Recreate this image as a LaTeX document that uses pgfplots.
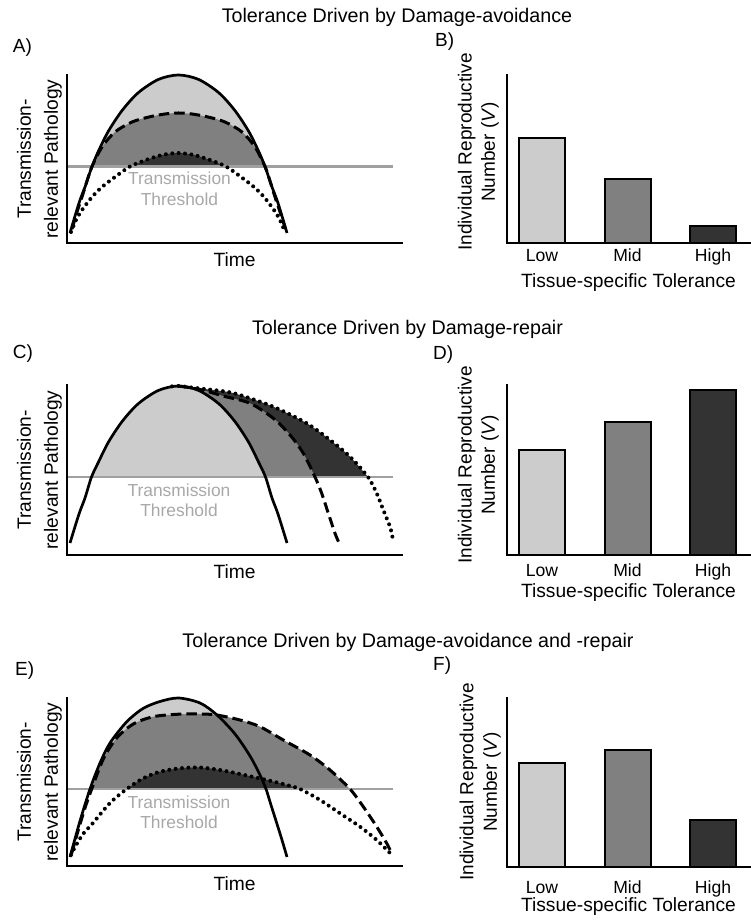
\documentclass[border=0pt]{standalone}
\usepackage{fontspec}
\setmainfont{Liberation Sans}
\usepackage{pgfplots}
\pgfplotsset{compat=1.18}
\definecolor{cLight}{HTML}{CCCCCC}
\definecolor{cMid}{HTML}{808080}
\definecolor{cDark}{HTML}{333333}
\definecolor{cThr}{HTML}{A0A0A0}
\definecolor{cText}{HTML}{A8A8A8}
\pgfplotsset{
  every axis/.append style={font=\fontsize{19.2}{22}\selectfont},
  pan/.style={scale only axis, clip=false, anchor=south west,
    axis x line*=bottom, axis y line*=left,
    axis line style={line width=2.8pt, line cap=rect, black},
    xtick=\empty, ytick=\empty, major tick length=0pt, ymin=0},
  curvepan/.style={pan, width=335pt, xmin=67, xmax=402,
    xlabel={Time},
    xlabel style={at={(axis description cs:0.5,0)}, anchor=base, yshift=-24pt, inner sep=0pt},
    ylabel={Transmission-\\relevant Pathology},
    ylabel style={at={(axis description cs:-0.015,0.5)}, anchor=south, inner sep=0pt,
      align=center, font=\fontsize{19.2}{27}\selectfont}},
  barpan/.style={pan, width=243pt, xmin=507, xmax=750, ymax=1,
    xtick={542,627.5,713}, xticklabels={Low,Mid,High},
    xticklabel style={anchor=base, inner sep=0pt, font=\fontsize{17.6}{20}\selectfont},
    xlabel={Tissue-specific Tolerance},
    ylabel={Individual Reproductive\\Number (\textit{V})},
    ylabel style={anchor=south, inner sep=0pt, align=center, font=\fontsize{19}{23.3}\selectfont}},
  thrline/.style={cThr, line width=2.5pt},
  solline/.style={black, line width=2.7pt, smooth},
  dshline/.style={black, line width=3pt, smooth, dash pattern=on 10.5pt off 5pt},
  dotline/.style={black, line width=4pt, smooth, line cap=round, dash pattern=on 0pt off 6.4pt},
  region/.style={draw=none, smooth},
  onebar/.style={ybar, bar width=46pt, bar shift=0pt, draw=black, line width=2pt},
}
\begin{document}
\begin{tikzpicture}
\useasboundingbox (0,0) rectangle (751pt,921pt);
\node[anchor=base, font=\fontsize{19.7}{22}\selectfont] at (397pt,898pt) {Tolerance Driven by Damage-avoidance};
\node[anchor=base, font=\fontsize{19.7}{22}\selectfont] at (407.5pt,586.7pt) {Tolerance Driven by Damage-repair};
\node[anchor=base, font=\fontsize{19.7}{22}\selectfont] at (408pt,273.3pt) {Tolerance Driven by Damage-avoidance and -repair};
\node[anchor=base west, inner sep=0pt, font=\fontsize{19}{22}\selectfont] at (12.7pt,868pt) {A)};
\node[anchor=base west, inner sep=0pt, font=\fontsize{19}{22}\selectfont] at (435pt,874.5pt) {B)};
\node[anchor=base west, inner sep=0pt, font=\fontsize{19}{22}\selectfont] at (12.7pt,562pt) {C)};
\node[anchor=base west, inner sep=0pt, font=\fontsize{19}{22}\selectfont] at (433pt,561pt) {D)};
\node[anchor=base west, inner sep=0pt, font=\fontsize{19}{22}\selectfont] at (15pt,245pt) {E)};
\node[anchor=base west, inner sep=0pt, font=\fontsize{19}{22}\selectfont] at (433pt,250pt) {F)};

% ---------- A ----------
\begin{axis}[curvepan, at={(67pt,678pt)}, height=168pt, ymax=168]
\addplot[region, fill=cLight] coordinates {(92,76.5) (98.5,92) (108.5,112) (122.5,133) (138.5,150.5) (158.5,163.6) (178.5,168) (198.5,163.6) (218.5,150.5) (234.5,133) (248.5,112) (258.5,92) (265,76.5)} -- cycle;
\addplot[region, fill=cMid] coordinates {(92,76.5) (102,96) (115,111) (132,121) (149,126) (165,129) (178.5,130) (192,129) (208,126) (225,121) (242,111) (255,96) (265,76.5)} -- cycle;
\addplot[region, fill=cDark] coordinates {(130,76.5) (146,83) (162,88) (178,90) (194,88) (210,83) (226,76.5)} -- cycle;
\addplot[thrline] coordinates {(68,76.5) (393,76.5)};
\addplot[solline] coordinates {(70,10) (79,40) (85,56) (92,76.5) (98.5,92) (108.5,112) (122.5,133) (138.5,150.5) (158.5,163.6) (178.5,168) (198.5,163.6) (218.5,150.5) (234.5,133) (248.5,112) (258.5,92) (265,76.5) (272,56) (278,40) (287,10)};
\addplot[dshline] coordinates {(72,14) (77,31) (82,46) (87,62) (92,76.5) (102,96) (115,111) (132,121) (149,126) (165,129) (178.5,130) (192,129) (208,126) (225,121) (242,111) (255,96) (265,76.5) (270,62) (275,46) (280,31) (285.5,14)};
\addplot[dotline] coordinates {(71,11) (76,23) (82,33) (92,46) (102,56) (115,66) (130,76.5) (146,83) (162,88) (178,90) (194,88) (210,83) (226,76.5) (241,66) (254,56) (264,46) (274,33) (280,23) (285,11)};
\node[cText, anchor=base, font=\fontsize{17.4}{20}\selectfont] at (axis cs:179.5,58) {Transmission};
\node[cText, anchor=base, font=\fontsize{17.4}{20}\selectfont] at (axis cs:179.5,37) {Threshold};
\end{axis}

% ---------- B ----------
\begin{axis}[barpan, at={(507pt,678pt)}, height=168pt,
  xticklabel style={yshift=-18.7pt},
  xlabel style={at={(axis description cs:0.5,0)}, anchor=base, inner sep=0pt, yshift=-45pt},
  ylabel style={at={(axis description cs:-0.033,0.542)}}]
\addplot[onebar, fill=cLight] coordinates {(542,0.625)};
\addplot[onebar, fill=cMid] coordinates {(627.5,0.381)};
\addplot[onebar, fill=cDark] coordinates {(713,0.101)};
\end{axis}

% ---------- C ----------
\begin{axis}[curvepan, at={(67pt,366pt)}, height=170pt, ymax=170]
\addplot[region, fill=cDark] coordinates {(91.5,78) (98.5,93) (108.5,113) (122.5,134) (138.5,151.5) (158.5,164.6) (178.5,169) (200,166.5) (225,163.5) (240,160) (273.3,148.3) (306.7,131.7) (330,115) (350,98.3) (368,78)} -- cycle;
\addplot[region, fill=cMid] coordinates {(91.5,78) (98.5,93) (108.5,113) (122.5,134) (138.5,151.5) (158.5,164.6) (178.5,169) (200,165.5) (225,158.5) (250,151.7) (273.3,136.7) (290,120) (303.3,101.7) (315,78)} -- cycle;
\addplot[region, fill=cLight] coordinates {(91.5,78) (98.5,93) (108.5,113) (122.5,134) (138.5,151.5) (158.5,164.6) (178.5,169) (198.5,164.6) (218.5,151.5) (234.5,134) (248.5,113) (258.5,93) (265.5,78)} -- cycle;
\addplot[thrline] coordinates {(68,78) (393,78)};
\addplot[solline] coordinates {(70,12) (79,41) (85,57) (91.5,78) (98.5,93) (108.5,113) (122.5,134) (138.5,151.5) (158.5,164.6) (178.5,169) (198.5,164.6) (218.5,151.5) (234.5,134) (248.5,113) (258.5,93) (265.5,78) (272,57) (278,41) (287,12)};
\addplot[dshline] coordinates {(178.5,169) (200,165.5) (225,158.5) (250,151.7) (273.3,136.7) (290,120) (303.3,101.7) (315,78) (321.7,61.7) (328.3,41.7) (335,21.7) (339.5,11)};
\addplot[dotline] coordinates {(172,168.6) (178.5,169) (200,166.5) (225,163.5) (240,160) (273.3,148.3) (306.7,131.7) (330,115) (350,98.3) (368,78) (376.7,61.7) (383.3,45) (390,28.3) (392.7,16.7)};
\node[cText, anchor=base, font=\fontsize{17.4}{20}\selectfont] at (axis cs:179,58.3) {Transmission};
\node[cText, anchor=base, font=\fontsize{17.4}{20}\selectfont] at (axis cs:179,38.3) {Threshold};
\end{axis}

% ---------- D ----------
\begin{axis}[barpan, at={(507pt,366pt)}, height=170pt,
  xticklabel style={yshift=-21.7pt},
  xlabel style={at={(axis description cs:0.5,0)}, anchor=base, inner sep=0pt, yshift=-43pt},
  ylabel style={at={(axis description cs:-0.033,0.53)}}]
\addplot[onebar, fill=cLight] coordinates {(542,0.62)};
\addplot[onebar, fill=cMid] coordinates {(627.5,0.78)};
\addplot[onebar, fill=cDark] coordinates {(713,0.968)};
\end{axis}

% ---------- E ----------
\begin{axis}[curvepan, at={(67pt,55pt)}, height=168pt, ymax=168]
\addplot[region, fill=cLight] coordinates {(90,77) (100,103) (110,123) (126.5,144) (143,157.5) (160,164.5) (178.5,168) (200,163) (217,151) (235,132) (250,110) (260,91) (266,77)} -- cycle;
\addplot[region, fill=cMid] coordinates {(91.7,77) (103.3,107) (116.7,128) (133.3,142) (153.3,149.3) (176.7,151.7) (200,152) (216.7,151) (240,146) (260,139.3) (283.3,126) (310,111) (330,96) (350,77)} -- cycle;
\addplot[region, fill=cDark] coordinates {(126.7,77) (143.3,87.7) (160,94.3) (180,97.7) (200,98.5) (220,96) (240,92) (266.7,86) (285,81.5) (300,77)} -- cycle;
\addplot[thrline] coordinates {(68,77) (393,77)};
\addplot[solline] coordinates {(70,9) (80,45) (90,77) (100,103) (110,123) (126.5,144) (143,157.5) (160,164.5) (178.5,168) (200,163) (217,151) (235,132) (250,110) (260,91) (266,77) (271,61) (276.7,43) (282,26) (287,9)};
\addplot[dshline] coordinates {(71.5,12) (78,35) (85,58) (91.7,77) (103.3,107) (116.7,128) (133.3,142) (153.3,149.3) (176.7,151.7) (200,152) (216.7,151) (240,146) (260,139.3) (283.3,126) (310,111) (330,96) (350,77) (363.3,59.3) (376.7,39.3) (386.7,22.7) (392,12)};
\addplot[dotline] coordinates {(71,11) (75,19) (83,32) (93,43) (110,63) (126.7,77) (143.3,87.7) (160,94.3) (180,97.7) (200,98.5) (220,96) (240,92) (266.7,86) (285,81.5) (300,77) (320,66) (340,52.7) (360,39.3) (376.7,26) (390,13)};
\node[cText, anchor=base, font=\fontsize{17.4}{20}\selectfont] at (axis cs:179,57.7) {Transmission};
\node[cText, anchor=base, font=\fontsize{17.4}{20}\selectfont] at (axis cs:179,37) {Threshold};
\end{axis}

% ---------- F ----------
\begin{axis}[barpan, at={(507pt,54pt)}, height=169pt,
  xticklabel style={yshift=-26pt},
  xlabel style={at={(axis description cs:0.5,0)}, anchor=base, inner sep=0pt, yshift=-44.5pt},
  ylabel style={at={(axis description cs:-0.025,0.503)}}]
\addplot[onebar, fill=cLight] coordinates {(542,0.618)};
\addplot[onebar, fill=cMid] coordinates {(627.5,0.69)};
\addplot[onebar, fill=cDark] coordinates {(713,0.28)};
\end{axis}
\end{tikzpicture}
\end{document}
